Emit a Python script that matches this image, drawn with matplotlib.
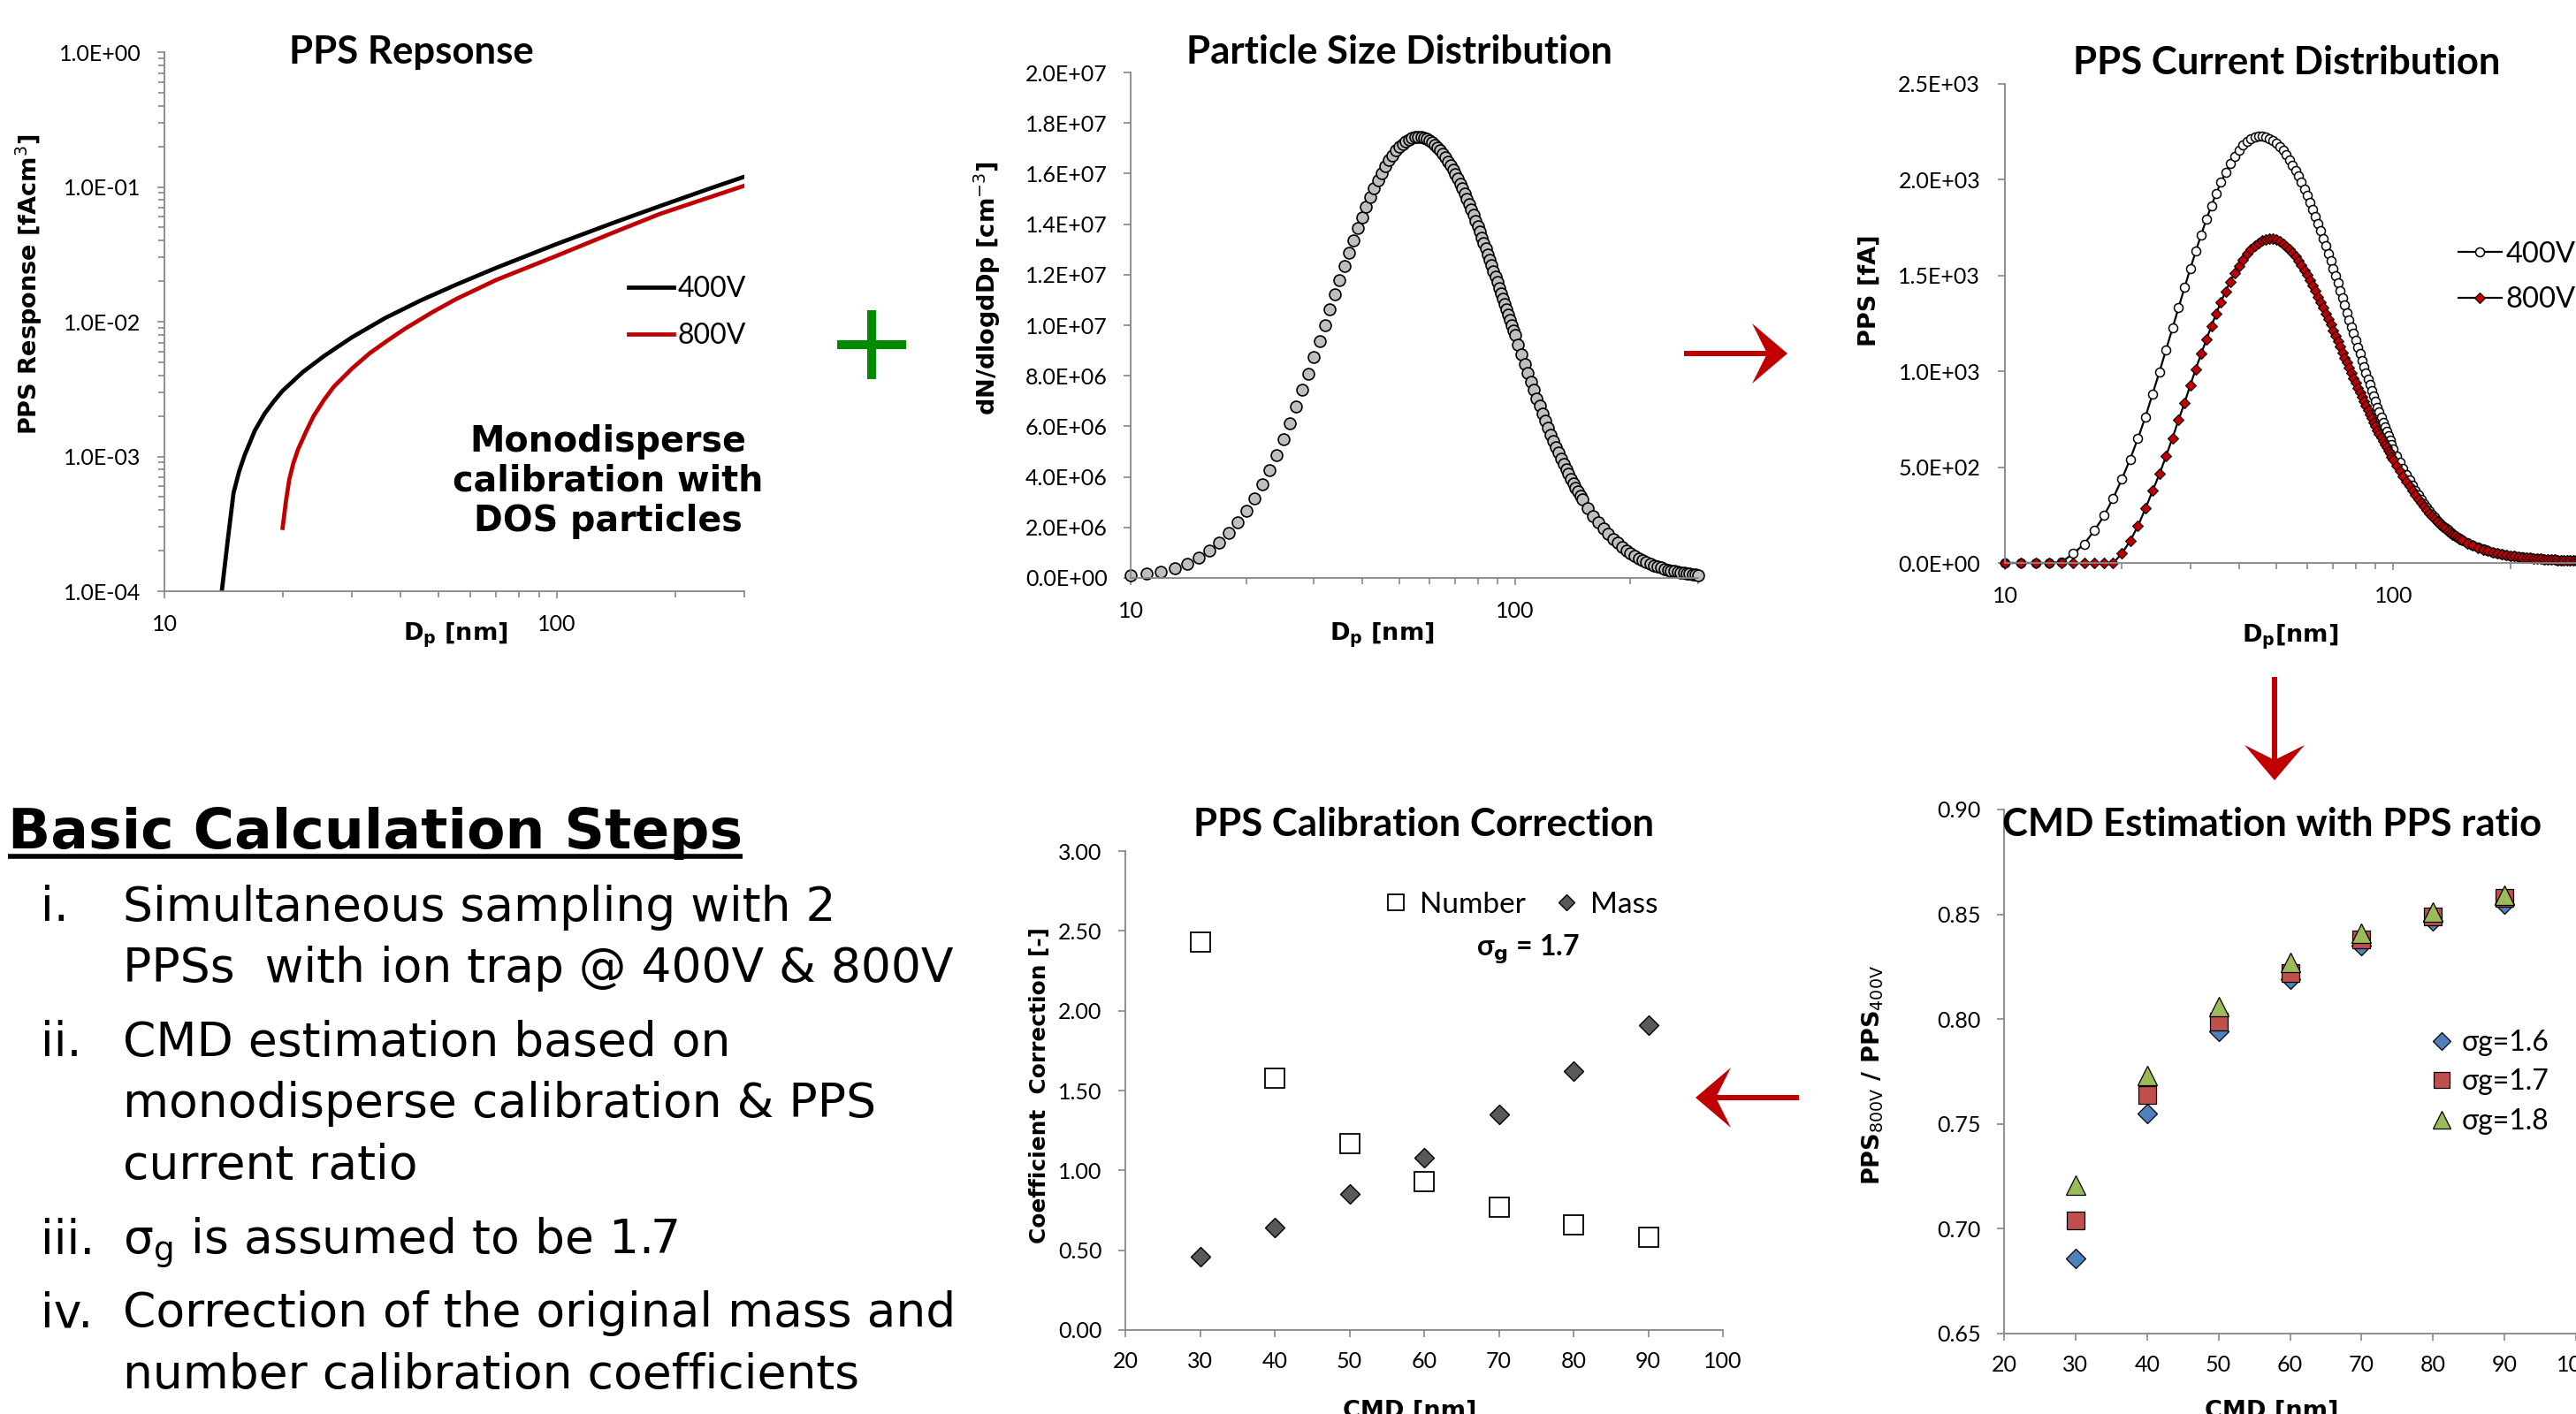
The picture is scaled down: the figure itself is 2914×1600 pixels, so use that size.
import matplotlib
matplotlib.use("Agg")
import matplotlib.pyplot as plt
import numpy as np
from matplotlib.patches import Polygon
from matplotlib.ticker import FuncFormatter, MultipleLocator, NullFormatter

W, H = 2914, 1600
RED = "#c00000"
AXIS_GRAY = "#868686"
SANS = ["Lato", "DejaVu Sans"]

# PPS response from the monodisperse DOS calibration
resp_dp_400 = [14.0, 14.5, 15.0, 15.5, 16.0, 17.0, 18.0, 19.0, 20.0, 22.5, 25.5,
               30.0, 36.4, 45.0, 55.3, 70.0, 100.0, 140.0, 183.0, 240.0, 300.0]
resp_400 = [1.0e-4, 2.4e-4, 5.37e-4, 7.76e-4, 1.02e-3, 1.56e-3, 2.08e-3, 2.57e-3,
            3.07e-3, 4.22e-3, 5.56e-3, 7.64e-3, 1.06e-2, 1.44e-2, 1.88e-2, 2.51e-2,
            3.78e-2, 5.45e-2, 7.21e-2, 9.53e-2, 0.119]
resp_dp_800 = [20.0, 20.4, 20.8, 21.3, 21.9, 23.0, 24.0, 25.5, 27.0, 30.0, 33.3,
               37.0, 41.1, 48.0, 55.3, 70.0, 100.0, 140.0, 183.0, 240.0, 300.0]
resp_800 = [2.95e-4, 4.68e-4, 6.76e-4, 8.91e-4, 1.13e-3, 1.55e-3, 2.0e-3, 2.63e-3,
            3.29e-3, 4.47e-3, 5.82e-3, 7.24e-3, 8.91e-3, 1.17e-2, 1.47e-2, 2.04e-2,
            3.09e-2, 4.62e-2, 6.31e-2, 8.22e-2, 0.102]

# size grid of the distributions: 1 nm steps to 100 nm, coarser above
dp = list(range(10, 101)) + list(range(102, 151, 2)) + list(range(155, 301, 5))

# dN/dlogDp in 1e6 cm^-3
psd_e6 = [
    0.090, 0.158, 0.258, 0.395, 0.575, 0.801, 1.075, 1.399, 1.771, 2.191,
    2.656, 3.161, 3.703, 4.277, 4.876, 5.498, 6.134, 6.782, 7.435, 8.088,
    8.737, 9.378, 10.007, 10.620, 11.214, 11.788, 12.338, 12.863, 13.361, 13.830,
    14.273, 14.683, 15.065, 15.416, 15.738, 16.029, 16.291, 16.524, 16.729, 16.906,
    17.056, 17.181, 17.281, 17.356, 17.409, 17.440, 17.450, 17.440, 17.412, 17.366,
    17.303, 17.225, 17.132, 17.025, 16.906, 16.775, 16.633, 16.482, 16.320, 16.151,
    15.973, 15.789, 15.599, 15.403, 15.202, 14.997, 14.788, 14.575, 14.360, 14.142,
    13.922, 13.701, 13.479, 13.256, 13.033, 12.810, 12.587, 12.364, 12.142, 11.921,
    11.702, 11.484, 11.267, 11.052, 10.839, 10.628, 10.419, 10.213, 10.008, 9.806,
    9.607,
    9.216, 8.836, 8.468, 8.112, 7.768, 7.435, 7.114, 6.804, 6.507, 6.221,
    5.945, 5.681, 5.428, 5.185, 4.952, 4.729, 4.516, 4.311, 4.116, 3.929,
    3.751, 3.580, 3.417, 3.261, 3.113,
    2.770, 2.465, 2.195, 1.954, 1.740, 1.550, 1.382, 1.232, 1.100, 0.982,
    0.877, 0.784, 0.701, 0.628, 0.562, 0.504, 0.452, 0.406, 0.365, 0.328,
    0.295, 0.265, 0.239, 0.215, 0.194, 0.175, 0.158, 0.143, 0.130, 0.117,
]

# PPS current in fA
pps_400 = [
    0, 0, 0, 0, 5, 49, 99, 170, 247, 338,
    437, 541, 650, 762, 882, 998, 1113, 1225, 1333, 1437,
    1535, 1627, 1713, 1792, 1864, 1930, 1987, 2037, 2083, 2123,
    2156, 2180, 2199, 2212, 2221, 2226, 2227, 2224, 2216, 2205,
    2190, 2172, 2152, 2129, 2104, 2077, 2048, 2018, 1986, 1952,
    1918, 1882, 1846, 1809, 1771, 1733, 1694, 1655, 1616, 1577,
    1538, 1499, 1460, 1421, 1383, 1345, 1307, 1270, 1233, 1197,
    1161, 1126, 1092, 1058, 1025, 993, 961, 930, 900, 871,
    842, 814, 787, 761, 735, 710, 686, 663, 640, 618,
    597,
    560, 525, 492, 461, 432, 404, 378, 354, 331, 310,
    290, 271, 254, 238, 223, 209, 196, 184, 173, 163,
    153, 144, 136, 128, 121,
    105, 92, 81, 72, 64, 57, 51, 46, 42, 38,
    35, 32, 30, 28, 26, 24, 22.5, 21, 20, 19,
    18, 17, 16, 15.3, 14.6, 14, 13.4, 12.8, 12.3, 11.8,
]
pps_800 = [
    0, 0, 0, 0, 0, 0, 0, 0, 0, 0,
    49, 115, 193, 284, 376, 465, 558, 652, 747, 836,
    927, 1012, 1091, 1165, 1236, 1302, 1363, 1418, 1468, 1512,
    1551, 1584, 1613, 1637, 1656, 1671, 1682, 1689, 1692, 1691,
    1686, 1678, 1667, 1653, 1637, 1619, 1599, 1577, 1553, 1528,
    1502, 1475, 1447, 1419, 1390, 1361, 1332, 1303, 1273, 1244,
    1215, 1186, 1157, 1128, 1100, 1072, 1045, 1018, 991, 965,
    940, 915, 890, 866, 843, 820, 798, 776, 755, 734,
    714, 694, 675, 656, 638, 620, 603, 586, 570, 554,
    539,
    507, 478, 450, 424, 400, 376, 353, 333, 312, 294,
    276, 259, 243, 229, 215, 202, 190, 178, 168, 159,
    149, 141, 133, 125, 119,
    103, 90, 80, 71, 63, 56, 50, 45, 41, 37.5,
    34.6, 31.7, 29.7, 27.7, 25.7, 23.8, 22.3, 20.8, 19.8, 18.8,
    17.8, 16.8, 15.8, 15.1, 14.4, 13.9, 13.3, 12.7, 12.2, 11.7,
]

cmd = [30, 40, 50, 60, 70, 80, 90]
corr_number = [2.43, 1.58, 1.17, 0.93, 0.77, 0.66, 0.58]
corr_mass = [0.46, 0.64, 0.85, 1.08, 1.35, 1.62, 1.91]
ratio_16 = [0.686, 0.755, 0.794, 0.819, 0.835, 0.847, 0.855]
ratio_17 = [0.704, 0.764, 0.799, 0.822, 0.838, 0.849, 0.858]
ratio_18 = [0.721, 0.773, 0.806, 0.827, 0.841, 0.851, 0.859]

steps = [
    ("i.", ["Simultaneous sampling with 2", "PPSs  with ion trap @ 400V & 800V"]),
    ("ii.", ["CMD estimation based on", "monodisperse calibration & PPS", "current ratio"]),
    ("iii.", ["\u03c3$_\\mathrm{g}$ is assumed to be 1.7"]),
    ("iv.", ["Correction of the original mass and", "number calibration coefficients"]),
]
step_baselines = [1042, 1111, 1195, 1264, 1334, 1419, 1501, 1571]

sci = FuncFormatter(lambda v, p: f"{v:.1E}")
two = FuncFormatter(lambda v, p: f"{v:.2f}")
plain = FuncFormatter(lambda v, p: f"{v:g}")

fig = plt.figure(figsize=(W / 100, H / 100), dpi=100)


def rect(left, top, right, bottom):
    return [left / W, 1 - bottom / H, (right - left) / W, (bottom - top) / H]


def put(x, y, s, **kw):
    return fig.text(x / W, 1 - y / H, s, **kw)


def frame(ax, xpad=13, ypad=12):
    for side in ("top", "right"):
        ax.spines[side].set_visible(False)
    for side in ("left", "bottom"):
        ax.spines[side].set_color(AXIS_GRAY)
        ax.spines[side].set_linewidth(1.3)
    ax.tick_params(which="both", direction="out", color=AXIS_GRAY, width=1.2,
                   labelsize=18, labelfontfamily="Lato")
    ax.tick_params(which="major", length=6)
    ax.tick_params(which="minor", length=5)
    ax.tick_params(axis="x", which="major", pad=xpad)
    ax.tick_params(axis="y", which="major", pad=ypad)


def log_x(ax):
    ax.set_xscale("log")
    ax.set_xlim(10, 300)
    ax.xaxis.set_major_formatter(plain)
    ax.xaxis.set_minor_formatter(NullFormatter())


def ylab(x, y, s, size=19.5):
    put(x, y, s, rotation=90, ha="center", va="center", fontsize=size,
        fontweight="bold", family="DejaVu Sans")


def xlab(x, y, s):
    put(x, y, s, ha="center", va="center", fontsize=19.5, fontweight="bold",
        family="DejaVu Sans")


def title(x, y, s):
    put(x, y, s, ha="center", va="center", fontsize=31.5, fontweight="bold", family=SANS)


# PPS response
ax1 = fig.add_axes(rect(186, 59, 842, 669))
ax1.plot(resp_dp_400, resp_400, color="black", lw=3.4, label="400V")
ax1.plot(resp_dp_800, resp_800, color=RED, lw=3.4, label="800V")
log_x(ax1)
ax1.set_yscale("log")
ax1.set_ylim(1e-4, 1)
ax1.yaxis.set_major_formatter(sci)
frame(ax1, ypad=13)
ax1.legend(loc="upper left", bbox_to_anchor=(0.80, 0.585), frameon=False,
           prop={"family": SANS, "size": 23}, handlelength=1.6, handletextpad=0.15,
           labelspacing=0.72, borderpad=0, borderaxespad=0)
title(465, 59, "PPS Repsonse")
ylab(33, 322, "PPS Response [fAcm$^3$]")
xlab(515, 719, "D$_\\mathbf{p}$ [nm]")
put(688, 545, "Monodisperse\ncalibration with\nDOS particles", ha="center", va="center",
    fontsize=28.5, fontweight="bold", family="DejaVu Sans", linespacing=1.17)

# particle size distribution
ax2 = fig.add_axes(rect(1279, 82, 1921, 654))
ax2.plot(dp, np.array(psd_e6) * 1e6, ls="none", marker="o", ms=9.3, mfc="#bfbfbf",
         mec="black", mew=1.2, clip_on=False)
log_x(ax2)
ax2.set_ylim(0, 2e7)
ax2.yaxis.set_major_locator(MultipleLocator(2e6))
ax2.yaxis.set_major_formatter(sci)
frame(ax2, ypad=13)
title(1583, 59, "Particle Size Distribution")
ylab(1117, 326, "dN/dlogdDp [cm$^{-3}$]")
xlab(1563, 719, "D$_\\mathbf{p}$ [nm]")

# PPS current distribution
ax3 = fig.add_axes(rect(2268, 95, 2917, 637))
ax3.plot(dp, pps_400, color="black", lw=1.6, marker="o", ms=7.2, mfc="white",
         mec="black", mew=1.1, label="400V", clip_on=False)
ax3.plot(dp, pps_800, color="black", lw=1.6, marker="D", ms=5.8, mfc=RED,
         mec="black", mew=0.8, label="800V", clip_on=False)
log_x(ax3)
ax3.set_ylim(0, 2500)
ax3.yaxis.set_major_locator(MultipleLocator(500))
ax3.yaxis.set_major_formatter(sci)
frame(ax3, ypad=14)
ax3.legend(loc="upper left", bbox_to_anchor=(0.79, 0.672), frameon=False,
           prop={"family": SANS, "size": 23.5}, handlelength=1.5, handletextpad=0.15,
           labelspacing=0.65, borderpad=0, borderaxespad=0)
title(2587, 71, "PPS Current Distribution")
ylab(2115, 329, "PPS [fA]")
xlab(2591, 721, "D$_\\mathbf{p}$[nm]")

# calibration correction
ax4 = fig.add_axes(rect(1273, 963, 1949, 1505))
ax4.plot(cmd, corr_number, ls="none", marker="s", ms=15.5, mfc="white", mec="black",
         mew=1.3, label="Number")
ax4.plot(cmd, corr_mass, ls="none", marker="D", ms=11, mfc="#595959", mec="black",
         mew=1.0, label="Mass")
ax4.set_xlim(20, 100)
ax4.set_ylim(0, 3)
ax4.xaxis.set_major_locator(MultipleLocator(10))
ax4.yaxis.set_major_locator(MultipleLocator(0.5))
ax4.yaxis.set_major_formatter(two)
frame(ax4, xpad=11, ypad=13)
ax4.legend(loc="center left", bbox_to_anchor=(0.428, 0.888), ncol=2, frameon=False,
           prop={"family": SANS, "size": 24}, handlelength=1.0, handletextpad=0.3,
           columnspacing=0.9, borderpad=0, borderaxespad=0, markerscale=0.85)
put(1728, 1074, "\u03c3$_\\mathbf{g}$ = 1.7", ha="center", va="center", fontsize=23,
    fontweight="bold", family=SANS)
title(1611, 933, "PPS Calibration Correction")
ylab(1176, 1228, "Coefficient  Correction [-]", size=17.8)
xlab(1595, 1597, "CMD [nm]")

# CMD estimation from the PPS ratio
ax5 = fig.add_axes(rect(2267, 916, 2914, 1509))
ax5.plot(cmd, ratio_16, ls="none", marker="D", ms=11, mfc="#4f81bd", mec="black",
         mew=0.9, label="\u03c3g=1.6")
ax5.plot(cmd, ratio_17, ls="none", marker="s", ms=14.5, mfc="#c0504d", mec="black",
         mew=0.9, label="\u03c3g=1.7")
ax5.plot(cmd, ratio_18, ls="none", marker="^", ms=16, mfc="#9bbb59", mec="black",
         mew=0.9, label="\u03c3g=1.8")
ax5.set_xlim(20, 100)
ax5.set_ylim(0.65, 0.90)
ax5.xaxis.set_major_locator(MultipleLocator(10))
ax5.yaxis.set_major_locator(MultipleLocator(0.05))
ax5.yaxis.set_major_formatter(two)
frame(ax5, xpad=11, ypad=13)
ax5.legend(loc="upper left", bbox_to_anchor=(0.745, 0.58), frameon=False,
           prop={"family": SANS, "size": 23}, handlelength=0.8, handletextpad=0.3,
           labelspacing=0.45, borderpad=0, borderaxespad=0, markerscale=0.9)
title(2570, 933, "CMD Estimation with PPS ratio")
ylab(2119, 1217, "PPS$_{\\mathrm{800V}}$ / PPS$_{\\mathrm{400V}}$")
xlab(2570, 1597, "CMD [nm]")

# text block
head_base = 960
head = put(9, head_base, "Basic Calculation Steps", ha="left", va="baseline",
           fontsize=45.5, fontweight="bold", family="DejaVu Sans")
row = 0
for num, lines in steps:
    put(46, step_baselines[row], num, ha="left", va="baseline", fontsize=38.5,
        family="DejaVu Sans")
    for line in lines:
        put(139, step_baselines[row], line, ha="left", va="baseline", fontsize=38.5,
            family="DejaVu Sans")
        row += 1

# overlay for the connecting symbols
over = fig.add_axes([0, 0, 1, 1], zorder=10)
over.set_xlim(0, W)
over.set_ylim(H, 0)
over.axis("off")
over.patch.set_alpha(0)

fig.canvas.draw()
bb = head.get_window_extent()
over.plot([bb.x0, bb.x1], [head_base + 9, head_base + 9], color="black", lw=4,
          solid_capstyle="butt")

green = "#008a00"
over.plot([947, 1025], [390, 390], color=green, lw=7.2, solid_capstyle="butt")
over.plot([986, 986], [351, 429], color=green, lw=7.2, solid_capstyle="butt")


def arrow(x0, y0, x1, y1):
    d = np.array([x1 - x0, y1 - y0], float)
    u = d / np.hypot(*d)
    n = np.array([-u[1], u[0]])
    tip = np.array([x1, y1], float)
    back = tip - u * 22
    over.plot([x0, back[0]], [y0, back[1]], color=RED, lw=4.3, solid_capstyle="butt")
    pts = [tip, tip - u * 20 + n * 17, tip - u * 40 + n * 34, tip - u * 23,
           tip - u * 40 - n * 34, tip - u * 20 - n * 17]
    over.add_patch(Polygon(pts, closed=True, color=RED, lw=0))


arrow(1905, 400, 2022, 400)
arrow(2573, 766, 2573, 883)
arrow(2035, 1242, 1918, 1242)

fig.savefig("out.png", dpi=100)
